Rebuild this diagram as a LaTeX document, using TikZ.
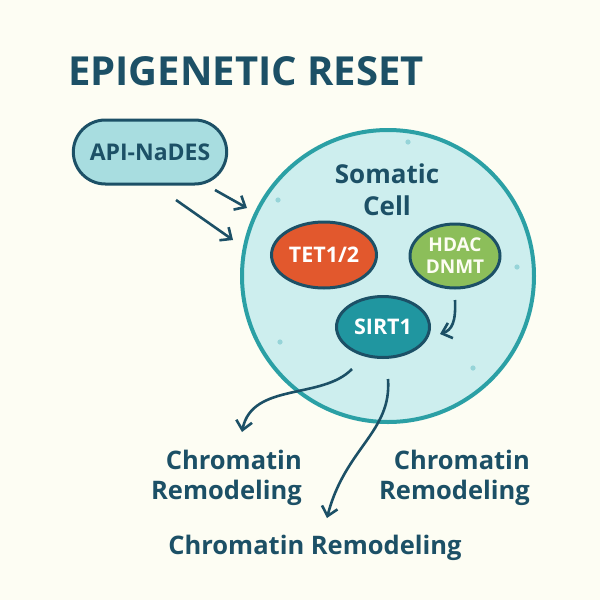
\documentclass[tikz,border=0pt]{standalone}
\usepackage{fontspec}
\setmainfont{Open Sans}
\newfontfamily\medfont{Open Sans}
\usetikzlibrary{shapes.geometric,shapes.misc,arrows.meta}
\definecolor{bg}{RGB}{253,253,243}
\definecolor{darkteal}{RGB}{28,80,102}
\definecolor{cellline}{RGB}{43,160,165}
\definecolor{cellfill}{RGB}{205,238,238}
\definecolor{pillfill}{RGB}{168,221,224}
\definecolor{tetfill}{RGB}{226,88,45}
\definecolor{hdacfill}{RGB}{140,190,90}
\definecolor{sirtfill}{RGB}{32,150,160}
\definecolor{dotcol}{RGB}{150,212,216}
\tikzset{
  enz/.style={ellipse,draw=darkteal,line width=3pt,inner sep=0pt,text=white,font=\medfont\bfseries\fontsize{21.5}{22}\selectfont,align=center},
  lbl/.style={text=darkteal,font=\medfont\bfseries\fontsize{25.5}{30}\selectfont,inner sep=0pt},
  arr/.style={draw=darkteal,line width=2.6pt,-{Straight Barb[length=9pt,width=16pt,line width=2.6pt]}},
  dot/.style={fill=dotcol}
}
\begin{document}
\begin{tikzpicture}[x=1pt,y=-1pt]
\useasboundingbox[fill=bg] (0,0) rectangle (600,600);
% title
\node[anchor=base west,inner sep=0pt,text=darkteal,font=\bfseries\fontsize{40}{40}\selectfont] (title) at (68,85) {EPIGENETIC RESET};
% cell
\node[circle,draw=cellline,fill=cellfill,line width=4pt,minimum size=292pt,inner sep=0pt] (cell) at (388,276) {};
\foreach \p/\n in {{(278,200)}/d1,{(408,142)}/d2,{(517,267)}/d3,{(280,342)}/d4,{(473,368)}/d5}
  \fill[dot] \p circle (2.6) coordinate (\n);
% pill
\node[rounded rectangle,draw=darkteal,fill=pillfill,line width=3pt,minimum width=160pt,minimum height=64pt,text=darkteal,font=\medfont\bfseries\fontsize{23}{26}\selectfont] (api) at (150,152) {API-NaDES};
% labels inside cell
\node[lbl,align=center,font=\medfont\bfseries\fontsize{26}{32}\selectfont] (soma) at (387,190) {Somatic\\Cell};
\node[enz,fill=tetfill,minimum width=105pt,minimum height=66pt] (tet) at (324,255) {TET1/2};
\node[enz,fill=hdacfill,minimum width=90pt,minimum height=64pt,font=\medfont\bfseries\fontsize{19}{22}\selectfont,text=bg] (hdac) at (455,256) {HDAC\\DNMT};
\node[enz,fill=sirtfill,minimum width=93pt,minimum height=61pt,font=\medfont\bfseries\fontsize{21.5}{24}\selectfont] (sirt) at (383,327) {SIRT1};
% arrows from API-NaDES
\coordinate (a1s) at (215,190); \coordinate (a1e) at (247,208);
\coordinate (a2s) at (176,200); \coordinate (a2e) at (233,240);
\draw[arr] (a1s) -- (a1e);
\draw[arr] (a2s) -- (a2e);
% HDAC -> SIRT1
\coordinate (h1) at (455,300); \coordinate (h2) at (440,334);
\draw[arr] (h1) .. controls (456,322) and (452,330) .. (h2);
% bottom labels
\node[lbl,align=right,anchor=east] (cr1) at (302,478) {Chromatin\\Remodeling};
\node[lbl,align=right,anchor=east] (cr2) at (530,478) {Chromatin\\Remodeling};
\node[lbl,anchor=center] (cr3) at (315,548) {Chromatin Remodeling};
% curves from SIRT1
\coordinate (c1s) at (352,369); \coordinate (c1e) at (242,432);
\coordinate (c2s) at (388,379); \coordinate (c2e) at (327,518);
\draw[arr] (c1s) .. controls (322,400) and (252,382) .. (c1e);
\draw[arr] (c2s) .. controls (392,432) and (345,448) .. (c2e);
\end{tikzpicture}
\end{document}
